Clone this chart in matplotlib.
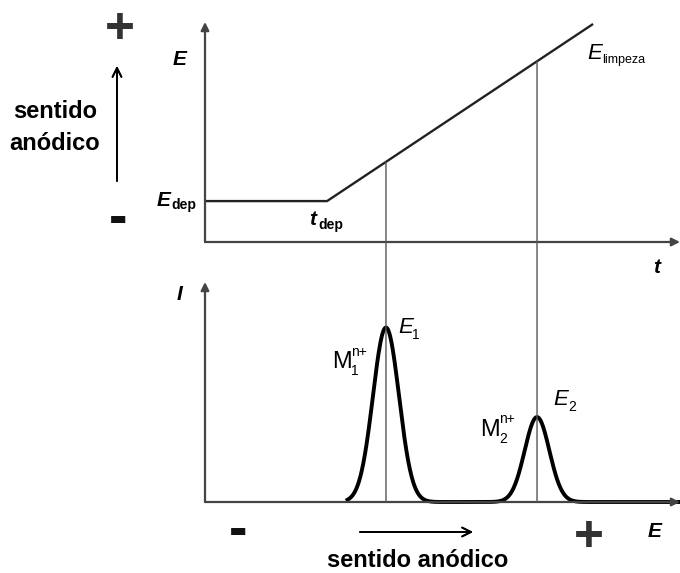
import numpy as np
import matplotlib
matplotlib.use("Agg")
import matplotlib.pyplot as plt
from matplotlib.patches import ConnectionPatch

plt.rcParams['font.family'] = ['Liberation Sans', 'DejaVu Sans']

# potential programme (top panel): time vs potential
t_ramp = [0, 25.7, 81.7]
E_ramp = [18.6, 18.6, 99.1]

# stripping peaks (bottom panel)
peak_pos = [38.1, 69.9]
peak_height = [79.3, 38.6]
peak_sigma = [2.75, 2.6]

W, H = 680, 573
fig = plt.figure(figsize=(W / 100, H / 100), dpi=100)

def ptxt(x, y, s, **kw):
    kw.setdefault('va', 'baseline')
    fig.text(x / W, 1 - y / H, s, **kw)

def frame(ax):
    ax.set_xlim(0, 100)
    ax.set_ylim(0, 100)
    ax.axis('off')
    arr = dict(arrowstyle='-|>', color='#444', lw=1.6, shrinkA=0, shrinkB=0,
               mutation_scale=12)
    ax.annotate('', xy=(0, 1), xytext=(0, 0), xycoords='axes fraction',
                arrowprops=arr, annotation_clip=False)
    ax.annotate('', xy=(1, 0), xytext=(0, 0), xycoords='axes fraction',
                arrowprops=arr, annotation_clip=False)

# top panel
ax_top = fig.add_axes([205 / W, 1 - 242 / H, 475 / W, 220 / H])
frame(ax_top)
ax_top.plot(t_ramp, E_ramp, color='#222', lw=1.7, solid_capstyle='butt')

# bottom panel
ax_bot = fig.add_axes([205 / W, 1 - 502 / H, 475 / W, 220 / H])
frame(ax_bot)
E = np.linspace(30, 100, 800)
I = np.zeros_like(E)
for p, h, s in zip(peak_pos, peak_height, peak_sigma):
    I += h * np.exp(-0.5 * ((E - p) / s) ** 2)
ax_bot.plot(E, I, color='black', lw=2.8, clip_on=False)

# vertical guide lines from the ramp to the baseline
for p in peak_pos:
    e_top = np.interp(p, t_ramp, E_ramp)
    con = ConnectionPatch(xyA=(p, e_top), coordsA=ax_top.transData,
                          xyB=(p, 0), coordsB=ax_bot.transData,
                          color='#555', lw=1.0)
    fig.add_artist(con)

# left side: direction of potential
bold = dict(fontweight='bold', fontsize=17)
ptxt(55, 118, 'sentido', ha='center', **bold)
ptxt(55, 150, 'anódico', ha='center', **bold)
fig.add_artist(plt.annotate('', xy=(117 / W, 1 - 66 / H), xytext=(117 / W, 1 - 181 / H),
                            xycoords='figure fraction',
                            arrowprops=dict(arrowstyle='->', color='black', lw=1.3,
                                            mutation_scale=16, shrinkA=0, shrinkB=0)))
ptxt(120, 43, '+', ha='center', fontsize=37, fontweight='bold', color='#333')
ptxt(118, 234, '-', ha='center', fontsize=40, fontweight='bold', color='#111')

# bottom: direction of potential
ptxt(418, 567, 'sentido anódico', ha='center', **bold)
fig.add_artist(plt.annotate('', xy=(473 / W, 1 - 532 / H), xytext=(360 / W, 1 - 532 / H),
                            xycoords='figure fraction',
                            arrowprops=dict(arrowstyle='->', color='black', lw=1.3,
                                            mutation_scale=16, shrinkA=0, shrinkB=0)))
ptxt(589, 551, '+', ha='center', fontsize=37, fontweight='bold', color='#333')
ptxt(238, 546, '-', ha='center', fontsize=40, fontweight='bold', color='#111')

# axis labels
bi = dict(fontweight='bold', style='italic', fontsize=15)
ptxt(173, 65, 'E', **bi)
ptxt(653, 273, 't', **bi)
ptxt(177, 300, 'I', **bi)
ptxt(648, 537, 'E', **bi)

# top annotations
ptxt(157, 206, 'E', **bi)
ptxt(171, 209, 'dep', fontweight='bold', fontsize=10)
ptxt(309, 225, 't', **bi)
ptxt(318, 229, 'dep', fontweight='bold', fontsize=10)
ptxt(587, 59, 'E', style='italic', fontsize=16)
ptxt(602, 63, 'limpeza', fontsize=9)

# peak annotations
it = dict(style='italic', fontsize=16)
ptxt(398, 333, 'E', **it)
ptxt(412, 339, '1', fontsize=10)
ptxt(553, 405, 'E', **it)
ptxt(568, 411, '2', fontsize=10)
ptxt(332, 368, 'M', fontsize=17)
ptxt(351, 375, '1', fontsize=10)
ptxt(351, 356, 'n+', fontsize=10)
ptxt(480, 436, 'M', fontsize=17)
ptxt(499, 443, '2', fontsize=10)
ptxt(499, 423, 'n+', fontsize=10)

fig.savefig('out.png', dpi=100)
